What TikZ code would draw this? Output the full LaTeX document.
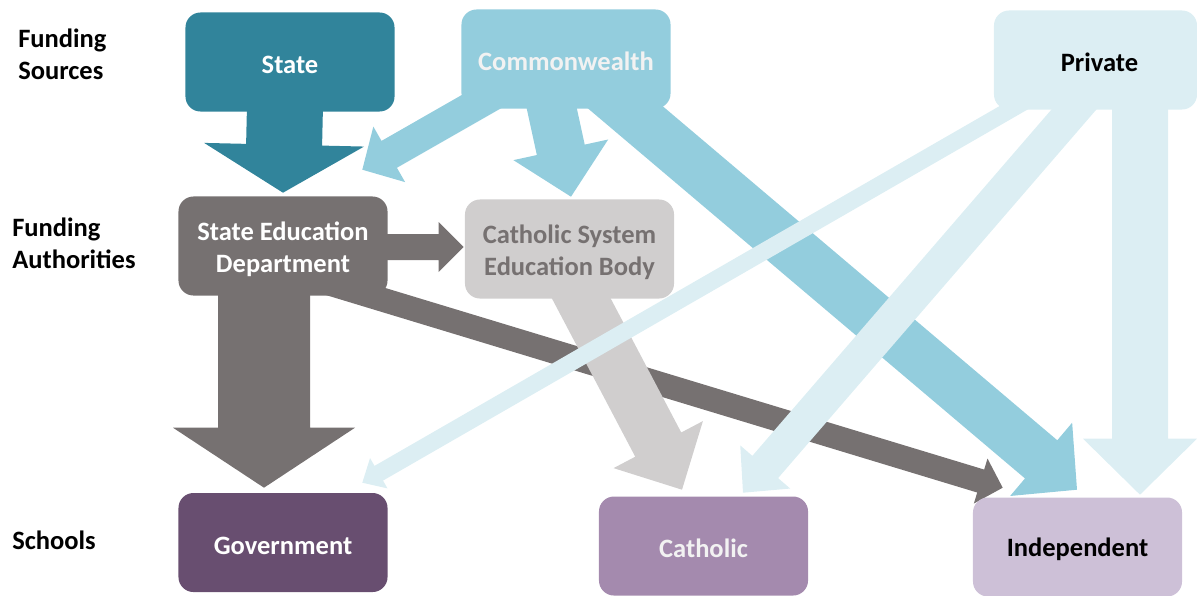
\documentclass[tikz,border=0pt]{standalone}
\usepackage{fontspec}
\setmainfont{Carlito}
\usetikzlibrary{calc, positioning, backgrounds}

\definecolor{stateteal}{HTML}{31849B}
\definecolor{cwblue}{HTML}{93CDDD}
\definecolor{privblue}{HTML}{DCEEF3}
\definecolor{deptgrey}{HTML}{767171}
\definecolor{bodygrey}{HTML}{D0CECE}
\definecolor{govpurple}{HTML}{684E70}
\definecolor{cathpurple}{HTML}{A48AAE}
\definecolor{indlilac}{HTML}{CDC0D7}
\definecolor{paletext}{HTML}{F2F2F2}

\tikzset{
    fundbox/.style={rounded corners=0.375cm, minimum width=5.225cm, minimum height=2.475cm,
        inner sep=0pt, align=center, font=\bfseries\fontsize{18.85}{22.76}\selectfont,
        execute at begin node={\rule{0pt}{0.6cm}}},
    rowlabel/.style={anchor=west, inner sep=0pt, align=left,
        font=\bfseries\fontsize{18.85}{22.76}\selectfont},
}

% taller first line, pushes two-line box text down a little
\newcommand{\toprow}{\rule{0pt}{0.65cm}}

% block arrow: #1 colour, #2 tail, #3 tip, #4 shaft, #5 head width, #6 head length (px)
\newcommand{\fatarrow}[6]{%
    \coordinate (tail) at #2;
    \coordinate (tip) at #3;
    \coordinate (neck) at ($(tip)!#6*0.025cm!(tail)$);
    \fill[#1] ($(tail)!#4*0.0125cm!90:(tip)$) -- ($(neck)!#4*0.0125cm!90:(tip)$)
        -- ($(neck)!#5*0.0125cm!90:(tip)$) -- (tip)
        -- ($(neck)!#5*0.0125cm!-90:(tip)$) -- ($(neck)!#4*0.0125cm!-90:(tip)$)
        -- ($(tail)!#4*0.0125cm!-90:(tip)$) -- cycle;
}

\begin{document}
\begin{tikzpicture}[x=0.025cm, y=-0.025cm]
\useasboundingbox (0,0) rectangle (1197,595);

% row labels
\node[rowlabel] (lsrc) at (18,54) {Funding\\Sources};
\node[rowlabel] (lauth) at (12,243) {Funding\\Authorities};
\node[rowlabel] (lsch) at (12,540) {Schools};

% funding sources
\node[fundbox, fill=stateteal, text=white] (state) at (290,62) {State};
\node[fundbox, fill=cwblue, text=paletext] (cw) at (566,59) {Commonwealth};
\node[fundbox, fill=privblue, text=black, minimum width=5.075cm] (priv) at (1095.5,60) {\hspace*{0.2cm}Private};

% funding authorities
\node[fundbox, fill=deptgrey, text=white] (sed) at (283,246) {\toprow State Education\\Department};
\node[fundbox, fill=bodygrey, text=deptgrey] (cseb) at (569.5,249) {\toprow Catholic System\\Education Body};

% schools
\node[fundbox, fill=govpurple, text=white] (gov) at (283,542.5) {Government};
\node[fundbox, fill=cathpurple, text=paletext] (cath) at (703.5,546) {Catholic};
\node[fundbox, fill=indlilac, text=black] (ind) at (1077.5,547) {Independent};

\begin{scope}[on background layer]
\fatarrow{deptgrey}{($(sed.south)+(-19,-15.5)$)}{($(gov.north)+(-19,-5)$)}{92}{182}{60}
\fatarrow{deptgrey}{($(sed.east)+(-17.5,1)$)}{($(cseb.west)+(-1,-2)$)}{26}{50}{25}
\fatarrow{deptgrey}{($(sed.south east)+(-67.5,-15)$)}{($(ind.north west)+(30,-9.5)$)}{24}{47}{23}
\fatarrow{stateteal}{($(state.south)+(-5,-6.5)$)}{($(sed.north)+(0,-3.5)$)}{76}{160}{48}
\fatarrow{bodygrey}{($(cseb.south)+(0.5,-21.8)$)}{($(cath.north)+(-21.5,-6.5)$)}{52}{101}{51}
\fatarrow{cwblue}{($(cw.south)+(-56,-23.5)$)}{($(sed.north east)+(-25.5,-26.5)$)}{31}{64}{31}
\fatarrow{cwblue}{($(cw.south)+(-16,-8.5)$)}{($(cseb.north)+(1.5,-2.5)$)}{49}{97}{48}
\fatarrow{cwblue}{($(cw.south)+(28,-28)$)}{($(ind.north)+(-0.5,-7.5)$)}{50}{96}{47}
\fatarrow{privblue}{($(priv.south west)+(43.3,-15.5)$)}{($(gov.north east)+(-25.5,-10)$)}{17}{35}{19}
\fatarrow{privblue}{($(priv.south)+(-3.7,-21)$)}{($(cath.north)+(39.5,-3.5)$)}{34}{66}{34}
\fatarrow{privblue}{($(priv.south)+(44.5,-9.5)$)}{($(ind.north)+(62.5,-2.5)$)}{56}{114}{56}
\end{scope}

\end{tikzpicture}
\end{document}
